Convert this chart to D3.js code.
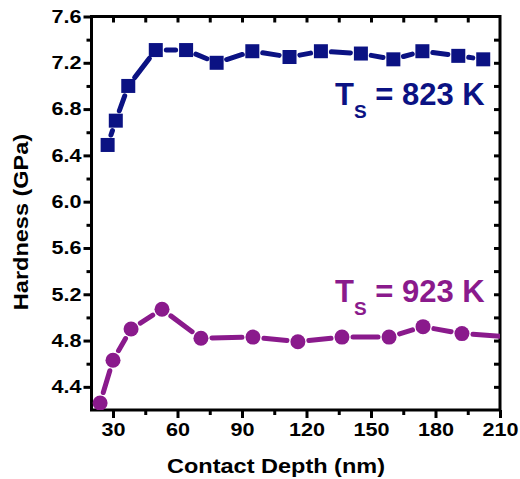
<!DOCTYPE html>
<html>
<head>
<meta charset="utf-8">
<script src="https://cdn.jsdelivr.net/npm/d3@7"></script>
<style>
  html, body { margin: 0; padding: 0; background: #fff; }
  svg { display: block; }
  text { font-family: "Liberation Sans", Arial, sans-serif; font-weight: bold; }
</style>
</head>
<body>
<svg id="chart" width="520" height="479"></svg>
<script>
// ---- data ----
const depth823 = [27.5, 31.3, 37.1, 49.9, 64.0, 78.2, 94.8, 112.1, 126.7, 145.3, 160.4, 173.9, 190.6, 202.2];
const hard823  = [6.49, 6.70, 7.00, 7.31, 7.31, 7.20, 7.30, 7.25, 7.30, 7.28, 7.23, 7.30, 7.26, 7.23];
const depth923 = [24.0, 30.0, 38.4, 52.8, 70.9, 95.1, 116.0, 136.5, 158.4, 174.2, 192.3, 224.0];
const hard923  = [4.26, 4.63, 4.90, 5.07, 4.82, 4.83, 4.79, 4.83, 4.83, 4.92, 4.86, 4.82];
const xTicks = [30, 60, 90, 120, 150, 180, 210];
const yTicks = [4.4, 4.8, 5.2, 5.6, 6.0, 6.4, 6.8, 7.2, 7.6];
const xTitle = "Contact Depth (nm)";
const yTitle = "Hardness (GPa)";

const navy = "#0b1283";
const purple = "#8a1a8c";

const svg = d3.select("#chart");
const L = 91.5, R = 500, T = 16.5, B = 410;
const x = d3.scaleLinear().domain([20, 210]).range([L, R]);
const y = d3.scaleLinear().domain([4.2, 7.6]).range([B, T]);

svg.append("defs").append("clipPath").attr("id", "plotclip")
  .append("rect").attr("x", L).attr("y", T).attr("width", R - L).attr("height", B - T);

// ---- axes ----
const xMinor = d3.range(45, 210, 30);
const yMinor = d3.range(4.6, 7.5, 0.4);
const yAll = d3.range(4.4, 7.61, 0.2);
const xAll = d3.range(30, 211, 15);

// bottom axis
const gx = svg.append("g").attr("transform", `translate(0,${B})`)
  .call(d3.axisBottom(x).tickValues(xTicks).tickSize(8).tickPadding(5).tickFormat(d3.format("d")));
svg.append("g").attr("transform", `translate(0,${B})`)
  .call(d3.axisBottom(x).tickValues(xMinor).tickSize(5).tickFormat(""));
// left axis
const gy = svg.append("g").attr("transform", `translate(${L},0)`)
  .call(d3.axisLeft(y).tickValues(yTicks).tickSize(8).tickPadding(2).tickFormat(d3.format(".1f")));
svg.append("g").attr("transform", `translate(${L},0)`)
  .call(d3.axisLeft(y).tickValues(yMinor).tickSize(5).tickFormat(""));
// top axis (inward)
svg.append("g").attr("transform", `translate(0,${T})`)
  .call(d3.axisBottom(x).tickValues(xAll.filter(v => v < 210)).tickSize(6).tickFormat(""));
// right axis (inward)
svg.append("g").attr("transform", `translate(${R},0)`)
  .call(d3.axisLeft(y).tickValues(yAll.filter(v => v < 7.55)).tickSize(6).tickFormat(""));

svg.selectAll(".domain").remove();
svg.selectAll(".tick line").attr("stroke", "#000").attr("stroke-width", 3);
svg.selectAll(".tick text").attr("fill", "#000").style("font-size", "18px");
gx.selectAll(".tick text").attr("transform", "scale(1.2,1)").attr("x", 0);
gy.selectAll(".tick text")
  .attr("transform", "translate(-10,0) scale(1.2,1)").attr("x", 0).attr("text-anchor", "end");

// frame
svg.append("rect").attr("x", L).attr("y", T).attr("width", R - L).attr("height", B - T)
  .attr("fill", "none").attr("stroke", "#000").attr("stroke-width", 3);

// ---- series ----
function drawSeries(xs, ys, color, half, width, shape) {
  const g = svg.append("g").attr("clip-path", "url(#plotclip)");
  const pts = xs.map((d, i) => [x(d), y(ys[i])]);
  const gap = half + 3.5;
  for (let i = 0; i < pts.length - 1; i++) {
    const [x1, y1] = pts[i], [x2, y2] = pts[i + 1];
    const dx = x2 - x1, dy = y2 - y1, len = Math.hypot(dx, dy);
    let a = gap / len, b = 1 - gap / len;
    if (a > b) { a = b = 0.5; }
    g.append("line")
      .attr("x1", x1 + dx * a).attr("y1", y1 + dy * a)
      .attr("x2", x1 + dx * b).attr("y2", y1 + dy * b)
      .attr("stroke", color).attr("stroke-width", width).attr("stroke-linecap", "round");
  }
  if (shape === "square") {
    g.selectAll("rect.m").data(pts).join("rect")
      .attr("x", d => d[0] - half).attr("y", d => d[1] - half)
      .attr("width", half * 2).attr("height", half * 2).attr("fill", color);
  } else {
    g.selectAll("circle.m").data(pts).join("circle")
      .attr("cx", d => d[0]).attr("cy", d => d[1]).attr("r", half).attr("fill", color);
  }
}
drawSeries(depth823, hard823, navy, 7, 5, "square");
drawSeries(depth923, hard923, purple, 7.5, 5, "circle");

// ---- labels ----
function seriesLabel(xp, yp, num, color) {
  const t = svg.append("text").attr("x", xp).attr("y", yp).attr("fill", color)
    .style("font-size", "31px");
  t.append("tspan").text("T");
  t.append("tspan").attr("dy", 13).style("font-size", "19px").text("S");
  t.append("tspan").attr("dy", -13).text(" = " + num + " K");
}
seriesLabel(335, 105, "823", navy);
seriesLabel(335, 302, "923", purple);

// axis titles
svg.append("text").attr("transform", "translate(276,473) scale(1.12,1)")
  .attr("text-anchor", "middle").style("font-size", "21px").attr("fill", "#000").text(xTitle);
svg.append("text").attr("transform", "translate(28,222) rotate(-90) scale(1.12,1)")
  .attr("text-anchor", "middle").style("font-size", "21px").attr("fill", "#000").text(yTitle);
</script>
</body>
</html>
